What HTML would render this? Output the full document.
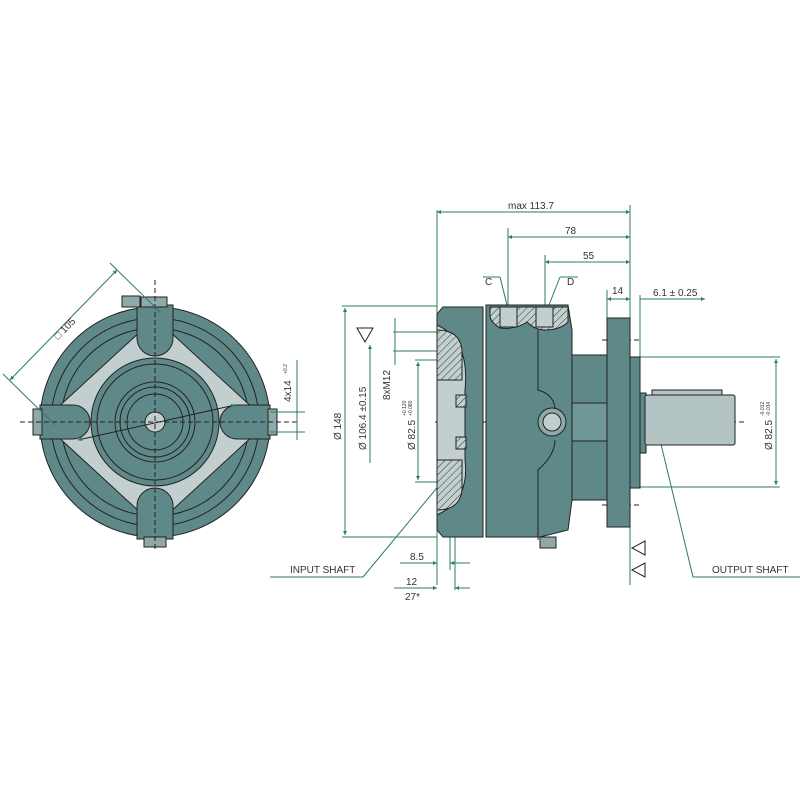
<!DOCTYPE html>
<html><head><meta charset="utf-8"><style>
html,body{margin:0;padding:0;background:#fff;}
svg{display:block;}
text{font-family:"Liberation Sans",sans-serif;font-size:10px;fill:#333;}
.s{font-size:5px;}
</style></head><body>
<svg width="800" height="800" viewBox="0 0 800 800" xmlns="http://www.w3.org/2000/svg">
<defs>
<marker id="a" viewBox="0 0 10 10" refX="10" refY="5" markerWidth="6" markerHeight="4" orient="auto-start-reverse"><path d="M0,0L10,5L0,10z" fill="#2e7a6a"/></marker>
<pattern id="h" width="5" height="5" patternUnits="userSpaceOnUse" patternTransform="rotate(45)"><rect width="5" height="5" fill="#c2d0d0"/><line x1="0" y1="0" x2="0" y2="5" stroke="#333" stroke-width="1"/></pattern>
</defs>
<g stroke="#222" stroke-width="1">
<circle cx="155" cy="422" r="115" fill="#5f8989"/>
<circle cx="155" cy="422" r="104" fill="none"/>
<circle cx="155" cy="422" r="94" fill="none"/>
<path d="M155,318 L255,410 L255,434 L155,526 L55,434 L55,410 Z" fill="#c3cfcf"/>
<circle cx="155" cy="422" r="64" fill="#5f8989"/>
<circle cx="155" cy="422" r="58" fill="none"/>
<circle cx="155" cy="422" r="40" fill="none"/>
<circle cx="155" cy="422" r="35" fill="none"/>
<circle cx="155" cy="422" r="28" fill="none"/>
<circle cx="155" cy="422" r="10" fill="#c3cfcf"/>
<path d="M137,305 L137,338 A18,18 0 0 0 173,338 L173,305 Z" fill="#5f8989"/>
<path d="M137,539 L137,506 A18,18 0 0 1 173,506 L173,539 Z" fill="#5f8989"/>
<path d="M40,405 L73,405 A17,17 0 0 1 73,439 L40,439 Z" fill="#5f8989"/>
<path d="M270,405 L237,405 A17,17 0 0 0 237,439 L270,439 Z" fill="#5f8989"/>
<rect x="33" y="409" width="9" height="26" fill="#8fa9a9"/>
<rect x="268" y="409" width="9" height="26" fill="#8fa9a9"/>
<rect x="144" y="537" width="22" height="10" fill="#8fa9a9"/>
<rect x="141" y="297" width="26" height="10" fill="#8fa9a9"/>
<rect x="122" y="296" width="18" height="11" fill="#8fa9a9"/>
</g>
<g stroke="#222" stroke-width="1" stroke-dasharray="5,3" fill="none">
<line x1="20" y1="422" x2="300" y2="422"/><line x1="155" y1="280" x2="155" y2="550"/>
<line x1="435" y1="422" x2="745" y2="422"/>
<line x1="602" y1="340" x2="640" y2="340"/><line x1="602" y1="505" x2="640" y2="505"/>
</g>
<g stroke="#2e7a6a" stroke-width="1" fill="none">
<line x1="10" y1="380" x2="117" y2="270" marker-start="url(#a)" marker-end="url(#a)"/>
<line x1="3" y1="374" x2="55" y2="425"/><line x1="110" y1="263" x2="160" y2="312"/>
<line x1="78" y1="440" x2="235" y2="405" stroke="#222" marker-start="url(#a)" marker-end="url(#a)"/>
<line x1="270" y1="412" x2="305" y2="412"/><line x1="270" y1="432" x2="305" y2="432"/>
<line x1="297" y1="360" x2="297" y2="440"/>
<line x1="437" y1="210" x2="437" y2="585"/><line x1="630" y1="205" x2="630" y2="585"/>
<line x1="437" y1="212" x2="630" y2="212" marker-start="url(#a)" marker-end="url(#a)"/>
<line x1="508" y1="228" x2="508" y2="305"/><line x1="508" y1="237" x2="630" y2="237" marker-start="url(#a)" marker-end="url(#a)"/>
<line x1="545" y1="255" x2="545" y2="305"/><line x1="545" y1="262" x2="630" y2="262" marker-start="url(#a)" marker-end="url(#a)"/>
<line x1="607" y1="290" x2="607" y2="318"/><line x1="607" y1="299" x2="630" y2="299" marker-start="url(#a)" marker-end="url(#a)"/>
<line x1="640" y1="295" x2="640" y2="357"/><line x1="640" y1="299" x2="705" y2="299" marker-end="url(#a)"/>
<line x1="342" y1="306" x2="437" y2="306"/><line x1="342" y1="537" x2="437" y2="537"/>
<line x1="345" y1="308" x2="345" y2="535" marker-start="url(#a)" marker-end="url(#a)"/>
<line x1="370" y1="345" x2="370" y2="463" marker-start="url(#a)"/>
<line x1="393" y1="332" x2="437" y2="332"/><line x1="393" y1="351" x2="437" y2="351"/>
<line x1="395" y1="318" x2="395" y2="365"/>
<line x1="415" y1="360" x2="437" y2="360"/><line x1="415" y1="482" x2="437" y2="482"/>
<line x1="418" y1="362" x2="418" y2="480" marker-start="url(#a)" marker-end="url(#a)"/>
<line x1="640" y1="357" x2="780" y2="357"/><line x1="640" y1="487" x2="780" y2="487"/>
<line x1="776" y1="359" x2="776" y2="485" marker-start="url(#a)" marker-end="url(#a)"/>
<line x1="450" y1="537" x2="450" y2="570"/><line x1="455" y1="537" x2="455" y2="590"/>
<line x1="400" y1="563" x2="437" y2="563" marker-end="url(#a)"/><line x1="470" y1="563" x2="450" y2="563" marker-end="url(#a)"/>
<line x1="394" y1="588" x2="437" y2="588" marker-end="url(#a)"/><line x1="470" y1="588" x2="455" y2="588" marker-end="url(#a)"/>
<polyline points="270,577 363,577 460,460"/>
<polyline points="800,577 693,577 660,440"/>
<line x1="483" y1="277" x2="500" y2="277"/><line x1="500" y1="277" x2="507" y2="305"/>
<line x1="560" y1="277" x2="578" y2="277"/><line x1="560" y1="277" x2="549" y2="305"/>
</g>
<g stroke="#222" stroke-width="1">
<path d="M443,307 L483,307 L483,537 L443,537 L437,530 L437,314 Z" fill="#5f8989"/>
<path d="M437,325 Q470,340 465,390 L465,460 Q470,500 437,515 Z" fill="#c3cfcf"/>
<path d="M437,330 Q460,330 462,350 L462,380 L437,380 Z" fill="url(#h)"/>
<path d="M437,510 Q460,510 462,490 L462,460 L437,460 Z" fill="url(#h)"/>
<rect x="456" y="395" width="10" height="12" fill="url(#h)"/>
<rect x="456" y="437" width="10" height="12" fill="url(#h)"/>
<path d="M486,305 L568,305 L572,330 L572,500 L568,530 L540,537 L486,537 Z" fill="#5f8989"/>
<path d="M490,307 L568,307 L568,322 Q560,330 545,330 Q535,330 527,322 Q515,330 500,328 Q490,322 490,315Z" fill="url(#h)"/>
<rect x="500" y="307" width="17" height="20" fill="#c3cfcf"/><rect x="536" y="307" width="17" height="20" fill="#c3cfcf"/>
<path d="M538,330 L538,390 Q555,395 555,410 M538,540 L538,470 Q555,455 555,440" fill="none"/>
<circle cx="552" cy="422" r="14" fill="#8fa9a9"/><circle cx="552" cy="422" r="9" fill="#c3cfcf"/>
<rect x="572" y="355" width="36" height="145" fill="#5f8989"/>
<rect x="572" y="403" width="36" height="38" fill="#6f9797"/>
<rect x="607" y="318" width="23" height="209" fill="#5f8989"/>
<rect x="630" y="357" width="10" height="131" fill="#5f8989"/>
<rect x="640" y="393" width="6" height="60" fill="#5f8989"/>
<rect x="652" y="390" width="70" height="5" fill="#b3c3c3"/>
<rect x="645" y="395" width="90" height="50" fill="#b3c3c3" rx="2"/>
<rect x="540" y="537" width="16" height="11" fill="#8fa9a9"/>
<path d="M357,328 L373,328 L365,342 Z" fill="#fff"/>
<path d="M632,548 L645,541 L645,555 Z" fill="#fff"/>
<path d="M632,570 L645,563 L645,577 Z" fill="#fff"/>
</g>
<text x="58" y="340" transform="rotate(-45 58 340)">□ 105</text>
<text x="291" y="402" transform="rotate(-90 291 402)">4x14</text>
<text class="s" x="287" y="374" transform="rotate(-90 287 374)">+0.2</text>
<text x="508" y="209">max 113.7</text>
<text x="565" y="234">78</text>
<text x="583" y="259">55</text>
<text x="485" y="285">C</text><text x="567" y="285">D</text>
<text x="612" y="294">14</text>
<text x="653" y="296">6.1 ± 0.25</text>
<text x="341" y="440" transform="rotate(-90 341 440)">Ø 148</text>
<text x="366" y="450" transform="rotate(-90 366 450)">Ø 106.4 ±0.15</text>
<text x="390" y="400" transform="rotate(-90 390 400)">8xM12</text>
<text x="415" y="450" transform="rotate(-90 415 450)">Ø 82.5</text>
<text class="s" x="406" y="416" transform="rotate(-90 406 416)">+0.120</text>
<text class="s" x="412" y="416" transform="rotate(-90 412 416)">+0.080</text>
<text x="772" y="450" transform="rotate(-90 772 450)">Ø 82.5</text>
<text class="s" x="764" y="416" transform="rotate(-90 764 416)">-0.012</text>
<text class="s" x="770" y="416" transform="rotate(-90 770 416)">-0.034</text>
<text x="410" y="560">8.5</text>
<text x="406" y="585">12</text>
<text x="405" y="600">27*</text>
<text x="290" y="573">INPUT SHAFT</text>
<text x="712" y="573">OUTPUT SHAFT</text>
</svg>
</body></html>
